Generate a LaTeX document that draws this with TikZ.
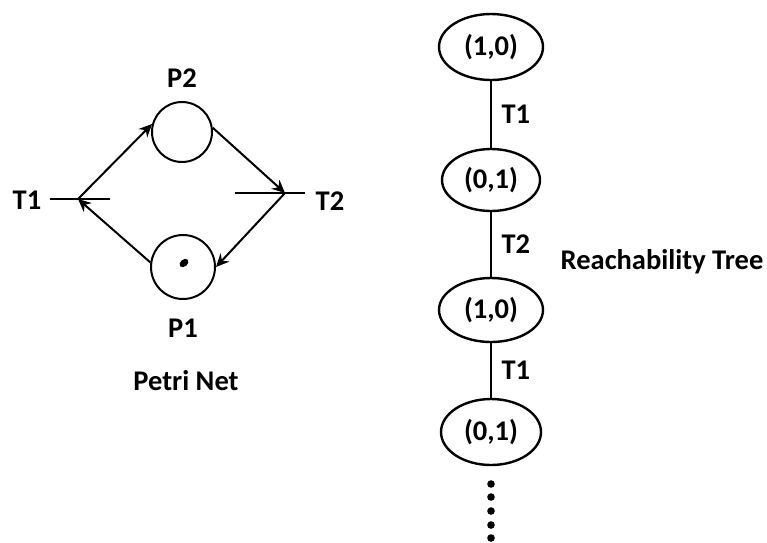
\documentclass[tikz,border=0pt]{standalone}
\usepackage{fontspec}
\setmainfont{Carlito}
\usepackage{tikz}
\usetikzlibrary{
  positioning,
  shapes.geometric,
  arrows.meta
}

\begin{document}
\begin{tikzpicture}[x=1pt,y=-1pt,>={Stealth[length=13pt,width=12pt]},
    every node/.style={font=\fontsize{28.5}{32}\selectfont\bfseries},
    place/.style={circle,draw,line width=2pt,minimum size=60pt,inner sep=0pt},
    state/.style={ellipse,draw,line width=2.4pt,minimum width=102pt,minimum height=64pt,inner sep=0pt},
    bar/.style={line width=2.4pt},
    arc/.style={line width=2pt,->}]
        \useasboundingbox (0,0) rectangle (767,542);

        % petri net
        \node[place] (p2) at (182,132) {};
        \node[place,minimum size=64pt] (p1) at (183,267) {};
        \fill[rotate around={40:(184,263)}] (184,263) ellipse (5pt and 3.5pt);
        \node (p2lab) at (182,78) {P2};
        \node (p1lab) at (183,328) {P1};
        \node (petri) at (186,381) {Petri Net};

        \coordinate (j1) at (78,199);
        \coordinate (j2) at (285,193);
        \draw[bar] (50,199) -- (110,199);
        \draw[bar] (235,193) -- (305,193);
        \node (t1lab) at (27,200) {T1};
        \node (t2lab) at (330,201) {T2};

        \draw[arc] (j1) -- (p2.165);
        \draw[arc] (p2.8) -- (j2);
        \draw[arc] (j2) -- (p1.east);
        \draw[arc] (p1.172) -- (j1);

        % reachability tree
        \node[state,minimum width=104pt,minimum height=66pt] (s1) at (491,47) {(1,0)};
        \node[state,minimum width=98pt,minimum height=62pt] (s2) at (491,180) {(0,1)};
        \node[state,minimum width=104pt,minimum height=64pt] (s3) at (491,310) {(1,0)};
        \node[state,minimum width=100pt,minimum height=66pt] (s4) at (491,432) {(0,1)};

        \draw[bar] (s1) -- (s2) node[midway,right=6pt] {T1};
        \draw[bar] (s2) -- (s3) node[midway,right=6pt] {T2};
        \draw[bar] (s3) -- (s4) node[midway,right=6pt] {T1};

        \foreach \y in {484,497,511,525,538}
            \fill (491,\y) circle (3.8pt);

        \node (tree) at (662,262) {Reachability Tree};
    \end{tikzpicture}
\end{document}
